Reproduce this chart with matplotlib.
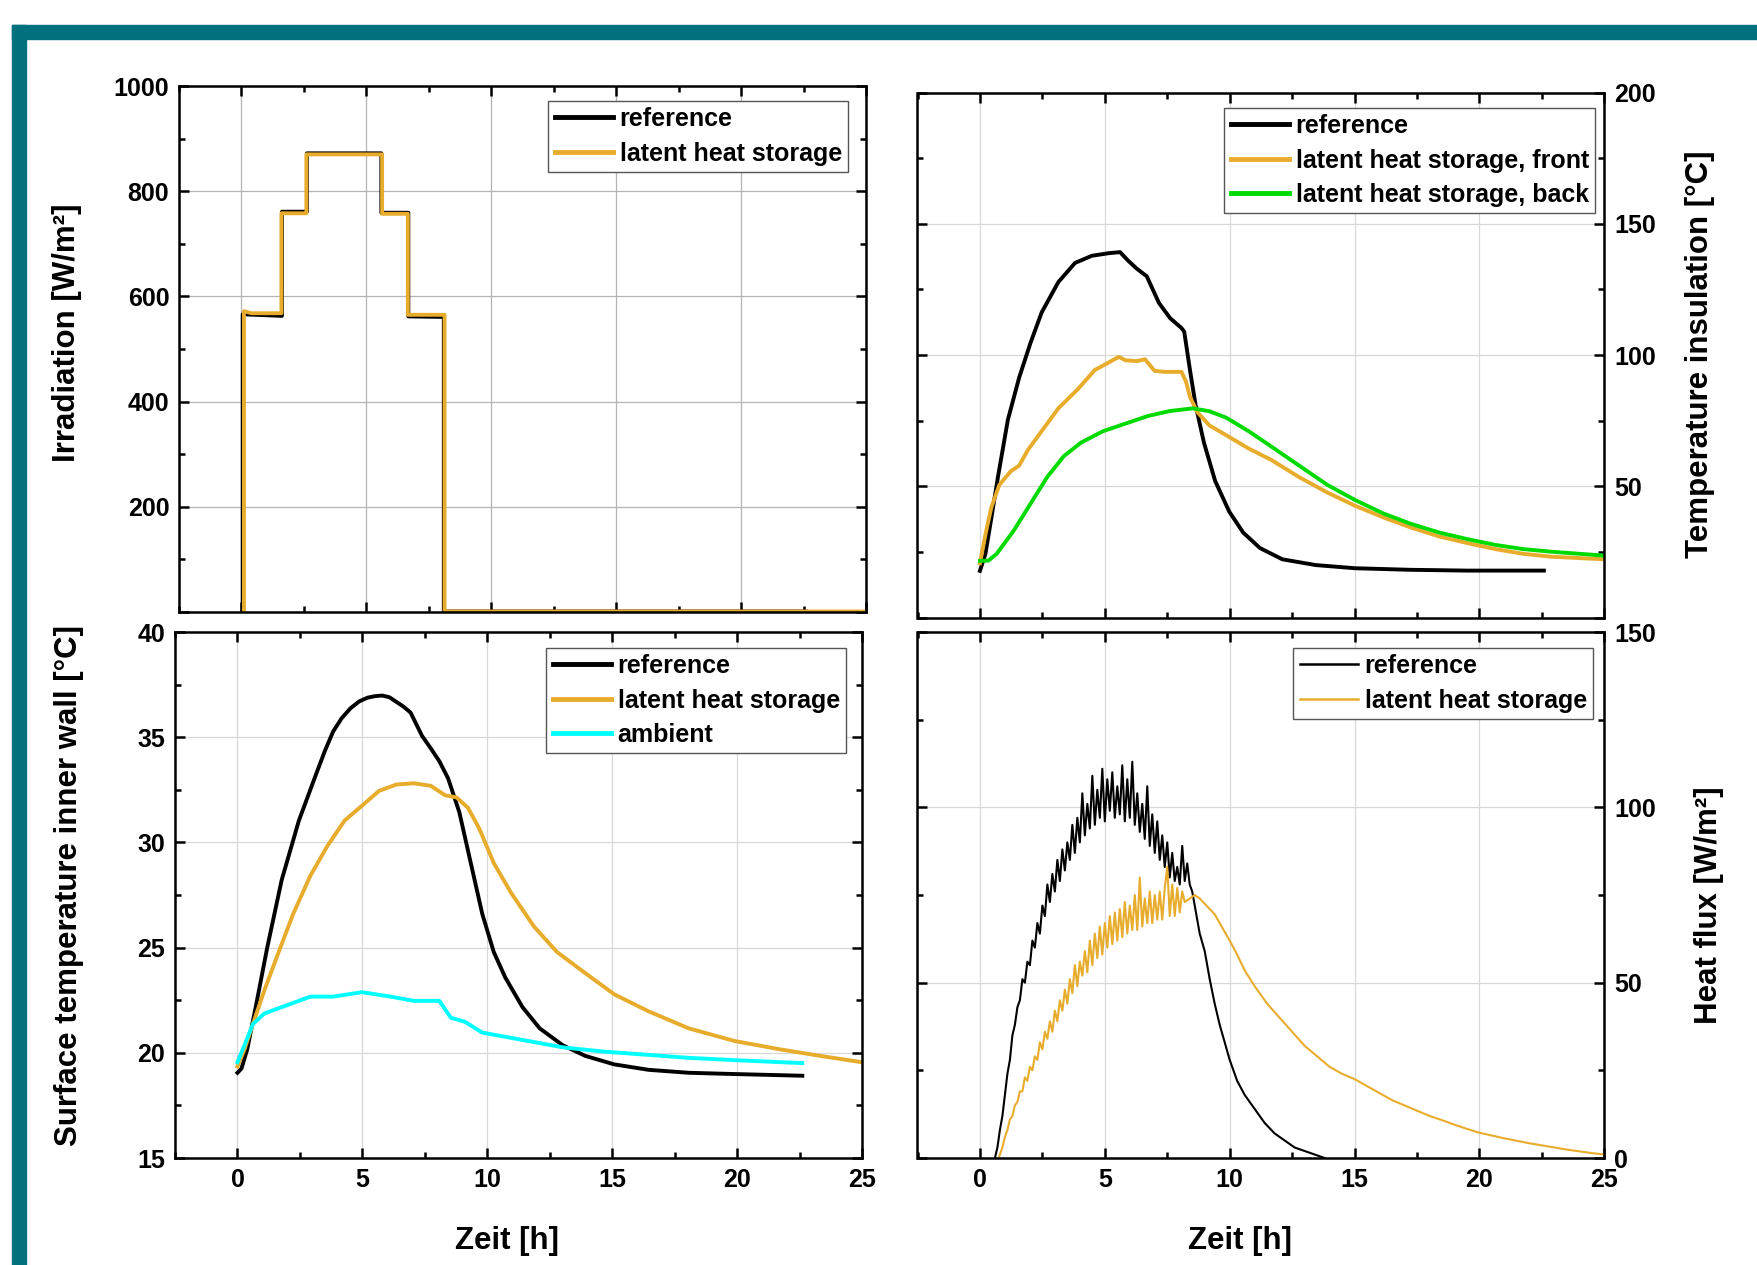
import numpy as np
import matplotlib
matplotlib.use('Agg')
import matplotlib.pyplot as plt
from matplotlib.patches import Rectangle
from matplotlib.ticker import MultipleLocator

plt.rcParams['font.family'] = ['Liberation Sans', 'DejaVu Sans']
plt.rcParams['font.weight'] = 'bold'

ORANGE = '#E8AC2C'
GREEN = '#00DA00'
CYAN = '#00FFFF'
TEAL = '#00717D'

# --- irradiation (top left) ---
irr_ref_t = [0.05, 0.05, 1.62, 1.62, 2.62, 2.62, 5.60, 5.60, 6.68, 6.68, 8.10, 8.10, 22.6]
irr_ref_v = [0, 566, 563, 761, 761, 872, 872, 759, 759, 562, 561, 1, 1]
irr_lhs_t = [0.10, 0.10, 0.4, 1.60, 1.60, 2.60, 2.60, 5.63, 5.63, 6.66, 6.66, 8.13, 8.13, 25.0]
irr_lhs_v = [0, 572, 568, 568, 758, 758, 870, 870, 757, 757, 565, 565, 1, 1]

# --- insulation temperature (top right) ---
ins_ref_t = [0, 0.22, 0.45, 0.72, 1.12, 1.57, 2.02, 2.47, 3.14, 3.81, 4.48, 5.16, 5.61,
             5.94, 6.28, 6.68, 7.17, 7.62, 8.07, 8.18, 8.41, 8.63, 8.97, 9.42, 9.98,
             10.54, 11.21, 12.11, 13.45, 15.02, 17.26, 19.5, 22.58]
ins_ref_v = [17.8, 24.3, 37.5, 53.5, 75.4, 91.4, 104.5, 116.2, 127.8, 135.1, 137.8, 138.8, 139.2,
             135.9, 132.9, 130.0, 119.8, 114.0, 110.3, 108.9, 94.3, 81.2, 66.6, 52.0, 40.4,
             32.4, 26.5, 22.2, 20.0, 18.8, 18.2, 17.9, 17.9]
ins_front_t = [0, 0.22, 0.45, 0.78, 1.23, 1.57, 1.91, 2.47, 3.14, 3.92, 4.6, 5.16, 5.56,
               5.83, 6.28, 6.61, 6.99, 7.4, 8.07, 8.25, 8.41, 8.7, 9.19, 9.98, 10.76,
               11.66, 12.78, 13.9, 15.02, 16.14, 17.26, 18.39, 19.51, 20.63, 21.75, 22.87, 25.0]
ins_front_v = [20.7, 31.6, 41.8, 50.6, 55.7, 57.9, 63.7, 71.0, 79.7, 87.0, 94.3, 97.2, 99.3,
               98.0, 97.7, 98.4, 94.0, 93.6, 93.6, 89.9, 84.1, 78.3, 73.2, 68.8, 64.4,
               60.1, 53.5, 47.7, 42.6, 38.2, 34.3, 30.9, 28.4, 26.1, 24.3, 23.2, 22.2]
ins_back_t = [0, 0.34, 0.67, 1.35, 2.02, 2.69, 3.36, 4.04, 4.93, 5.83, 6.73, 7.62, 8.52,
              9.19, 9.87, 10.76, 11.66, 12.78, 13.9, 15.02, 16.14, 17.26, 18.39, 19.51,
              20.63, 21.75, 22.87, 25.0]
ins_back_v = [21.6, 21.7, 24.3, 33.1, 43.3, 53.5, 61.5, 66.6, 71.0, 73.9, 76.8, 78.7, 79.7,
              78.6, 76.1, 71.0, 65.2, 57.9, 50.6, 44.8, 39.7, 35.7, 32.4, 29.9,
              27.7, 26.1, 25.1, 23.6]

# --- inner wall surface temperature (bottom left) ---
wall_ref_t = [0, 0.16, 0.39, 0.73, 1.19, 1.77, 2.46, 3.15, 3.5, 3.83, 4.17, 4.52, 4.87, 5.21,
              5.5, 5.79, 6.08, 6.36, 6.65, 6.93, 7.39, 7.75, 8.08, 8.43, 8.88, 9.34, 9.8,
              10.26, 10.72, 11.41, 12.1, 13.02, 13.93, 15.08, 16.46, 18.07, 19.9, 22.61]
wall_ref_v = [19.05, 19.25, 20.16, 22.17, 24.99, 28.21, 31.04, 33.25, 34.35, 35.27, 35.9, 36.37,
              36.7, 36.88, 36.95, 36.98, 36.9, 36.68, 36.45, 36.17, 35.06, 34.45, 33.86, 33.05,
              31.44, 29.02, 26.6, 24.79, 23.58, 22.17, 21.16, 20.36, 19.85, 19.45, 19.19, 19.05,
              18.99, 18.91]
wall_lhs_t = [0, 0.28, 0.62, 1.08, 1.65, 2.23, 2.92, 3.6, 4.29, 4.98, 5.67, 6.36, 7.05,
              7.74, 8.31, 8.77, 9.23, 9.69, 10.26, 10.95, 11.87, 12.79, 13.93, 15.08, 16.46,
              18.07, 19.9, 21.74, 23.35, 25.0]
wall_lhs_v = [19.35, 20.16, 21.37, 22.98, 24.79, 26.6, 28.42, 29.83, 31.04, 31.74, 32.45, 32.75, 32.81,
              32.69, 32.24, 32.14, 31.64, 30.63, 29.02, 27.61, 26.0, 24.79, 23.78, 22.78, 21.97,
              21.16, 20.56, 20.16, 19.85, 19.55]
amb_t = [0, 0.28, 0.62, 1.08, 1.54, 2.23, 2.92, 3.83, 4.98, 6.13, 7.05, 8.08, 8.54,
         9.11, 9.8, 10.72, 11.64, 13.02, 14.62, 16.23, 18.07, 19.9, 22.61]
amb_v = [19.55, 20.36, 21.37, 21.87, 22.07, 22.37, 22.67, 22.67, 22.88, 22.67, 22.47, 22.47, 21.67,
         21.47, 20.96, 20.76, 20.56, 20.26, 20.06, 19.92, 19.76, 19.65, 19.51]

# --- heat flux (bottom right) ---
flux_ref_t = [0.6, 0.7, 0.8, 0.9, 1.0, 1.1, 1.2, 1.3, 1.4, 1.5, 1.6, 1.7, 1.8, 1.9, 2.0,
              2.1, 2.2, 2.3, 2.4, 2.5, 2.6, 2.7, 2.8, 2.9, 3.0, 3.1, 3.2, 3.3, 3.4, 3.5,
              3.6, 3.7, 3.8, 3.9, 4.0, 4.1, 4.2, 4.3, 4.4, 4.5, 4.6, 4.7, 4.8, 4.9, 5.0,
              5.1, 5.2, 5.3, 5.4, 5.5, 5.6, 5.7, 5.8, 5.9, 6.0, 6.1, 6.2, 6.3, 6.4, 6.5,
              6.6, 6.7, 6.8, 6.9, 7.0, 7.1, 7.2, 7.3, 7.4, 7.5, 7.6, 7.7, 7.8, 7.9, 8.0,
              8.1, 8.2, 8.3, 8.4, 8.5, 8.6, 8.7, 8.8, 9.0, 9.2, 9.4, 9.6, 9.8, 10.0,
              10.3, 10.6, 11.0, 11.4, 11.8, 12.2, 12.6, 13.0, 13.4, 13.8]
flux_ref_v = [0, 3, 8, 12, 18, 24, 28, 35, 38, 43, 45, 51, 50, 56, 55,
              62, 60, 67, 64, 72, 69, 78, 73, 81, 76, 85, 79, 88, 82, 90,
              85, 95, 87, 97, 90, 104, 92, 101, 94, 109, 95, 105, 97, 111, 96,
              108, 99, 110, 97, 106, 98, 112, 96, 108, 97, 113, 95, 104, 93, 101,
              91, 106, 89, 98, 87, 96, 85, 92, 83, 90, 80, 87, 79, 83, 78,
              89, 79, 84, 78, 76, 72, 68, 64, 59, 51, 44, 38, 33, 28,
              22, 18, 14, 10, 7, 5, 3, 2, 1, 0]
flux_lhs_t = [0.75, 0.9, 1.0, 1.1, 1.2, 1.3, 1.4, 1.5, 1.6, 1.7, 1.8, 1.9, 2.0, 2.1, 2.2,
              2.3, 2.4, 2.5, 2.6, 2.7, 2.8, 2.9, 3.0, 3.1, 3.2, 3.3, 3.4, 3.5, 3.6, 3.7,
              3.8, 3.9, 4.0, 4.1, 4.2, 4.3, 4.4, 4.5, 4.6, 4.7, 4.8, 4.9, 5.0, 5.1, 5.2,
              5.3, 5.4, 5.5, 5.6, 5.7, 5.8, 5.9, 6.0, 6.1, 6.2, 6.3, 6.4, 6.5, 6.6, 6.7,
              6.8, 6.9, 7.0, 7.1, 7.2, 7.3, 7.4, 7.5, 7.6, 7.7, 7.8, 7.9, 8.0, 8.1, 8.2,
              8.4, 8.6, 8.8, 9.0, 9.2, 9.4, 9.6, 9.8, 10.0, 10.3, 10.6, 11.0, 11.5, 12.0,
              12.5, 13.0, 13.5, 14.0, 14.5, 15.0, 15.5, 16.0, 16.5, 17.0, 17.5, 18.0,
              18.5, 19.0, 19.5, 20.0, 20.5, 21.0, 21.5, 22.0, 22.5, 23.0, 23.5, 24.0,
              24.5, 25.0]
flux_lhs_v = [0, 3, 6, 8, 11, 12, 15, 16, 19, 19, 23, 22, 26, 25, 29,
              28, 33, 31, 36, 34, 39, 36, 42, 39, 45, 42, 48, 44, 51, 47,
              55, 49, 56, 52, 59, 53, 62, 55, 64, 57, 66, 58, 67, 60, 69,
              61, 70, 62, 71, 63, 73, 64, 72, 65, 75, 65, 80, 66, 74, 67,
              76, 67, 75, 68, 76, 68, 77, 83, 69, 78, 69, 77, 70, 76, 73,
              74, 75, 74, 72.5, 71, 69.5, 67, 64.5, 62, 58, 53.5, 49, 44, 40,
              36, 32, 29, 26, 24, 22.5, 20.5, 18.5, 16.5, 15, 13.5, 12,
              10.8, 9.5, 8.3, 7.2, 6.4, 5.6, 4.9, 4.2, 3.6, 3.0, 2.4, 1.9,
              1.4, 1.0]

W, H = 1757, 1265
fig = plt.figure(figsize=(W / 100, H / 100), dpi=100)

# teal frame
fig.patches.append(Rectangle((12 / W, 1 - 39 / H), 1 - 12 / W, 14 / H,
                             transform=fig.transFigure, color=TEAL, zorder=0))
fig.patches.append(Rectangle((12 / W, 0), 14 / W, 1 - 25 / H,
                             transform=fig.transFigure, color=TEAL, zorder=0))


def px_axes(x0, y0, x1, y1):
    return fig.add_axes([x0 / W, 1 - y1 / H, (x1 - x0) / W, (y1 - y0) / H])


ax_tl = px_axes(179, 86, 866, 612)
ax_tr = px_axes(917.5, 92.5, 1604.3, 617.6)
ax_bl = px_axes(175, 632, 862, 1158)
ax_br = px_axes(917.5, 632, 1604.3, 1158)


def style(ax, right=False, xlabels=True, grid='#c8c8c8'):
    ax.set_xlim(-2.5, 25)
    ax.xaxis.set_major_locator(MultipleLocator(5))
    ax.xaxis.set_minor_locator(MultipleLocator(2.5))
    ax.grid(True, which='major', color=grid, lw=0.9)
    ax.set_axisbelow(True)
    for s in ax.spines.values():
        s.set_linewidth(1.8)
    ax.tick_params(which='both', direction='in', top=True, bottom=True, left=True, right=True,
                   width=1.8, labelsize=18, pad=7)
    ax.tick_params(which='major', length=7)
    ax.tick_params(which='minor', length=4)
    ax.tick_params(axis='y', labelleft=not right, labelright=right)
    ax.tick_params(axis='x', labelbottom=xlabels)
    for lab in ax.get_xticklabels() + ax.get_yticklabels():
        lab.set_fontweight('bold')
    if right:
        ax.yaxis.set_label_position('right')


def legend(ax, x, y, lw=3.5):
    leg = ax.legend(loc='upper right', bbox_to_anchor=(x, y), frameon=True,
                    fancybox=False, edgecolor='#555555', framealpha=1, borderaxespad=0,
                    handlelength=2.35, handletextpad=0.25, borderpad=0.25, labelspacing=0.42,
                    prop={'weight': 'bold', 'size': 18})
    leg.get_frame().set_linewidth(1.0)
    for h in leg.get_lines():
        h.set_linewidth(lw)
    return leg


# top left
ax = ax_tl
ax.plot(irr_ref_t, irr_ref_v, color='black', lw=2.8, label='reference')
ax.plot(irr_lhs_t, irr_lhs_v, color=ORANGE, lw=2.8, label='latent heat storage')
style(ax, xlabels=False, grid='#b4b4b4')
ax.set_ylim(0, 1000)
ax.yaxis.set_minor_locator(MultipleLocator(100))
ax.set_yticks([0, 200, 400, 600, 800, 1000], ['', '200', '400', '600', '800', '1000'],
              fontweight='bold')
ax.set_ylabel('Irradiation [W/m²]', fontsize=22.5, fontweight='bold')
ax.yaxis.label.set_va('center')
ax.yaxis.set_label_coords(-0.163, 0.53)
legend(ax, 0.974, 0.9715)

# top right
ax = ax_tr
ax.plot(ins_ref_t, ins_ref_v, color='black', lw=2.8, label='reference')
ax.plot(ins_front_t, ins_front_v, color=ORANGE, lw=2.8, label='latent heat storage, front')
ax.plot(ins_back_t, ins_back_v, color=GREEN, lw=2.8, label='latent heat storage, back')
style(ax, right=True, xlabels=False, grid='#d8d8d8')
ax.set_ylim(0, 200)
ax.yaxis.set_minor_locator(MultipleLocator(25))
ax.set_yticks([0, 50, 100, 150, 200], ['', '50', '100', '150', '200'], fontweight='bold')
ax.set_ylabel('Temperature insulation [°C]', fontsize=22.5, fontweight='bold')
ax.yaxis.label.set_va('center')
ax.yaxis.set_label_coords(1.139, 0.502)
legend(ax, 0.9865, 0.9705)

# bottom left
ax = ax_bl
ax.plot(wall_ref_t, wall_ref_v, color='black', lw=2.8, label='reference')
ax.plot(wall_lhs_t, wall_lhs_v, color=ORANGE, lw=2.8, label='latent heat storage')
ax.plot(amb_t, amb_v, color=CYAN, lw=2.8, label='ambient')
style(ax, grid='#d8d8d8')
ax.set_ylim(15, 40)
ax.yaxis.set_minor_locator(MultipleLocator(2.5))
ax.set_yticks([15, 20, 25, 30, 35, 40], ['15', '20', '25', '30', '35', '40'], fontweight='bold')
ax.set_xticks([0, 5, 10, 15, 20, 25], ['0', '5', '10', '15', '20', '25'], fontweight='bold')
ax.set_ylabel('Surface temperature inner wall [°C]', fontsize=22.5, fontweight='bold')
ax.yaxis.label.set_va('center')
ax.yaxis.set_label_coords(-0.154, 0.519)
ax.set_xlabel('Zeit [h]', fontsize=22.5, fontweight='bold')
ax.xaxis.label.set_va('center')
ax.xaxis.set_label_coords(0.483, -0.158)
legend(ax, 0.977, 0.9696)

# bottom right
ax = ax_br
ax.plot(flux_ref_t, flux_ref_v, color='black', lw=1.5, label='reference')
ax.plot(flux_lhs_t, flux_lhs_v, color=ORANGE, lw=1.5, label='latent heat storage')
style(ax, right=True, grid='#d8d8d8')
ax.set_ylim(0, 150)
ax.yaxis.set_minor_locator(MultipleLocator(25))
ax.set_yticks([0, 50, 100, 150], ['0', '50', '100', '150'], fontweight='bold')
ax.set_xticks([0, 5, 10, 15, 20, 25], ['0', '5', '10', '15', '20', '25'], fontweight='bold')
ax.set_ylabel('Heat flux [W/m²]', fontsize=22.5, fontweight='bold')
ax.yaxis.label.set_va('center')
ax.yaxis.set_label_coords(1.152, 0.481)
ax.set_xlabel('Zeit [h]', fontsize=22.5, fontweight='bold')
ax.xaxis.label.set_va('center')
ax.xaxis.set_label_coords(0.4696, -0.158)
legend(ax, 0.9836, 0.9696, lw=1.8)

fig.savefig('out.png', dpi=100)
